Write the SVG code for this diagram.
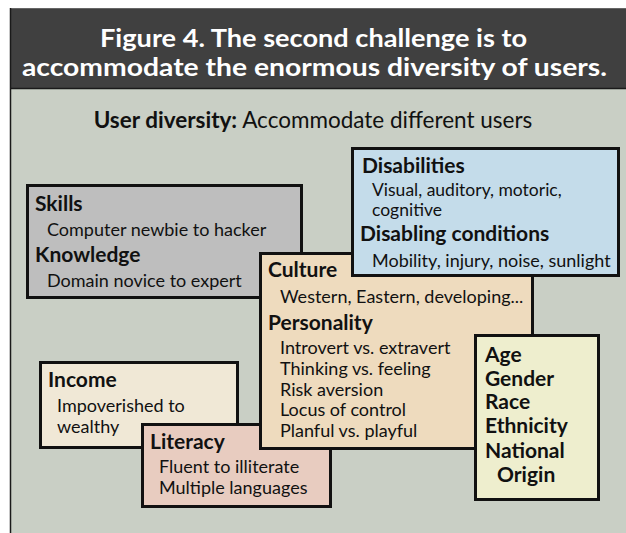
<svg xmlns="http://www.w3.org/2000/svg" width="626" height="533" viewBox="0 0 626 533">
<style>
.b{font-family:Lato,"Open Sans","Liberation Sans",sans-serif;font-weight:bold;font-size:21px;fill:#111}
.t{font-family:Lato,"Open Sans","Liberation Sans",sans-serif;font-size:18px;fill:#111}
.h{font-family:Lato,"Open Sans","Liberation Sans",sans-serif;font-weight:bold;font-size:24px;fill:#fff}
.box{stroke:#111;stroke-width:3}
</style>
<rect x="0" y="0" width="626" height="533" fill="#ffffff"/>
<rect x="10" y="8" width="616" height="80" fill="#404040"/>
<line x1="10" y1="8.5" x2="626" y2="8.5" stroke="#666" stroke-width="1"/>
<rect x="10" y="89" width="616" height="444" fill="#C9CFC5"/>
<line x1="10" y1="88.5" x2="626" y2="88.5" stroke="#1a1a1a" stroke-width="1.5"/>
<line x1="10.5" y1="8" x2="10.5" y2="533" stroke="#1a1a1a" stroke-width="1.5"/>
<text class="h" x="100" y="47" textLength="427" lengthAdjust="spacingAndGlyphs">Figure 4. The second challenge is to</text>
<text class="h" x="22" y="76" textLength="585" lengthAdjust="spacingAndGlyphs">accommodate the enormous diversity of users.</text>
<text x="313" y="128" text-anchor="middle" style="font-family:Lato,'Open Sans','Liberation Sans',sans-serif;font-size:22.5px;fill:#111"><tspan font-weight="bold">User diversity:</tspan> Accommodate different users</text>

<g id="skills">
<rect class="box" x="27.5" y="185.5" width="274" height="112" fill="#BEBEBE"/>
<text class="b" x="35" y="211">Skills</text>
<text class="t" x="47" y="236">Computer newbie to hacker</text>
<text class="b" x="35" y="262">Knowledge</text>
<text class="t" x="47" y="287">Domain novice to expert</text>
</g>
<g id="income">
<rect class="box" x="40.5" y="362.5" width="197" height="85" fill="#F0E8D6"/>
<text class="b" x="48" y="387">Income</text>
<text class="t" x="57" y="412">Impoverished to</text>
<text class="t" x="57" y="433">wealthy</text>
</g>
<g id="literacy">
<rect class="box" x="142.5" y="424.5" width="188" height="82" fill="#E8CCC0"/>
<text class="b" x="150" y="449">Literacy</text>
<text class="t" x="159" y="473">Fluent to illiterate</text>
<text class="t" x="159" y="494">Multiple languages</text>
</g>
<g id="culture">
<rect class="box" x="260.5" y="253.5" width="272" height="195" fill="#EEDBBE"/>
<text class="b" x="268" y="277">Culture</text>
<text class="t" x="280" y="303">Western, Eastern, developing...</text>
<text class="b" x="268" y="330">Personality</text>
<text class="t" x="280" y="354">Introvert vs. extravert</text>
<text class="t" x="280" y="375">Thinking vs. feeling</text>
<text class="t" x="280" y="396">Risk aversion</text>
<text class="t" x="280" y="416">Locus of control</text>
<text class="t" x="280" y="437">Planful vs. playful</text>
</g>
<g id="disabilities">
<rect class="box" x="352.5" y="148.5" width="266" height="127" fill="#C4DCEA"/>
<text class="b" x="362" y="173">Disabilities</text>
<text class="t" x="372" y="196" style="font-size:17.5px">Visual, auditory, motoric,</text>
<text class="t" x="372" y="216" style="font-size:17.5px">cognitive</text>
<text class="b" x="360" y="241">Disabling conditions</text>
<text class="t" x="372" y="267">Mobility, injury, noise, sunlight</text>
</g>
<g id="demographics">
<rect class="box" x="475.5" y="335.5" width="123" height="164" fill="#EEEECE"/>
<text class="b" x="485" y="362">Age</text>
<text class="b" x="485" y="386">Gender</text>
<text class="b" x="485" y="409">Race</text>
<text class="b" x="485" y="433">Ethnicity</text>
<text class="b" x="485" y="458">National</text>
<text class="b" x="497" y="482">Origin</text>
</g>
<g id="connectors"></g>
</svg>
